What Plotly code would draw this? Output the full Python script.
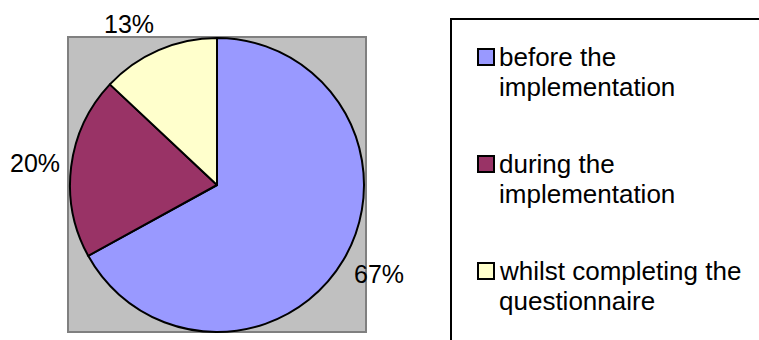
import math
import plotly.graph_objects as go

W, H = 759, 340

# Share of respondents by moment
categories = ["before the implementation", "during the implementation", "whilst completing the questionnaire"]
legend_lines = [["before the", "implementation"], ["during the", "implementation"], ["whilst completing the", "questionnaire"]]
shares = [67, 20, 13]
slice_colors = ["#9999FF", "#993366", "#FFFFCC"]

FONT = "Liberation Sans, Arial, sans-serif"
LABEL_SIZE = 25


# Pixel layout helpers (paper coordinates, zero margins)
def px_x(x):
    return x / W


def px_y(y):
    return 1 - y / H


cx, cy, r = 217, 185, 147
plot_box = (68, 37, 366, 332)
legend_box = (451, 19, 762, 345)

fig = go.Figure(
    go.Pie(
        labels=categories,
        values=shares,
        sort=False,
        direction="clockwise",
        rotation=0,
        marker=dict(colors=slice_colors, line=dict(color="black", width=2)),
        textinfo="none",
        hoverinfo="label+percent",
        showlegend=False,
        domain=dict(x=[px_x(cx - r), px_x(cx + r)], y=[px_y(cy + r), px_y(cy - r)]),
    )
)

shapes = [
    dict(
        type="rect", xref="paper", yref="paper", layer="below",
        x0=px_x(plot_box[0]), x1=px_x(plot_box[2]),
        y0=px_y(plot_box[3]), y1=px_y(plot_box[1]),
        fillcolor="#C0C0C0", line=dict(color="#808080", width=2),
    ),
    dict(
        type="rect", xref="paper", yref="paper", layer="below",
        x0=px_x(legend_box[0]), x1=px_x(legend_box[2]),
        y0=px_y(legend_box[3]), y1=px_y(legend_box[1]),
        fillcolor="rgba(0,0,0,0)", line=dict(color="black", width=2),
    ),
]
annotations = []

# Percentage labels outside each slice, placed along the slice's mid-angle
total = sum(shares)
start = 0.0
gap = 12
for v in shares:
    frac = v / total
    mid = (start + frac / 2) * 2 * math.pi  # clockwise from 12 o'clock
    start += frac
    ux, uy = math.sin(mid), -math.cos(mid)
    text = f"{frac * 100:.0f}%"
    tw = 0.66 * LABEL_SIZE * len(text)
    th = 1.3 * LABEL_SIZE
    lx = cx + (r + gap) * ux + math.copysign(tw / 2, ux)
    ly = cy + (r + gap) * uy + uy * th / 2
    annotations.append(dict(
        xref="paper", yref="paper", showarrow=False,
        x=px_x(lx), y=px_y(ly), xanchor="center", yanchor="middle",
        text=text, font=dict(family=FONT, size=LABEL_SIZE, color="black"),
    ))

# Legend entries: swatch plus wrapped label lines
item_top = 57
item_pitch = 107
line_gap = 30
sw = 16
for i, (lines, color) in enumerate(zip(legend_lines, slice_colors)):
    y0 = item_top + i * item_pitch
    shapes.append(dict(
        type="rect", xref="paper", yref="paper",
        x0=px_x(478), x1=px_x(478 + sw),
        y0=px_y(y0 + sw / 2), y1=px_y(y0 - sw / 2),
        fillcolor=color, line=dict(color="black", width=2),
    ))
    for j, text in enumerate(lines):
        annotations.append(dict(
            xref="paper", yref="paper", showarrow=False,
            x=px_x(497), y=px_y(y0 + j * line_gap),
            xanchor="left", yanchor="middle",
            text=text, font=dict(family=FONT, size=26, color="black"),
        ))

fig.update_layout(
    width=W,
    height=H,
    margin=dict(l=0, r=0, t=0, b=0),
    paper_bgcolor="white",
    font=dict(family=FONT, size=LABEL_SIZE, color="black"),
    shapes=shapes,
    annotations=annotations,
)

fig.write_html("out.html")
